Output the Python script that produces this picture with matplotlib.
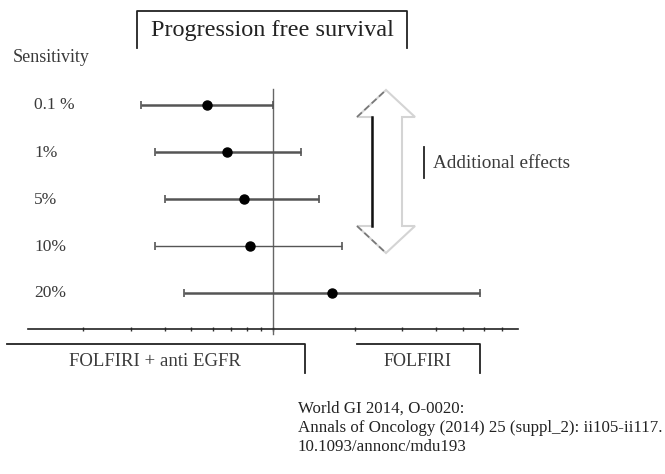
import matplotlib
matplotlib.use('Agg')
import matplotlib.pyplot as plt
from matplotlib.patches import Polygon
from matplotlib.ticker import FixedLocator, NullFormatter

plt.rcParams['font.family'] = ['Liberation Serif', 'DejaVu Serif']

# hazard ratios (log scale)
labels = ['0.1 %', '1%', '5%', '10%', '20%']
hr = [0.57, 0.675, 0.78, 0.82, 1.65]
ci_low = [0.326, 0.367, 0.399, 0.367, 0.469]
ci_high = [1.0, 1.27, 1.48, 1.80, 5.79]
minor_ticks = [0.2, 0.3, 0.4, 0.5, 0.6, 0.7, 0.8, 0.9, 2, 3, 4, 5, 6, 7]
footer = ['World GI 2014, O-0020:',
          'Annals of Oncology (2014) 25 (suppl_2): ii105-ii117.',
          '10.1093/annonc/mdu193']

W, H = 665, 474
fig = plt.figure(figsize=(W / 100, H / 100), dpi=100)

# forest plot axes
ax = fig.add_axes([28 / W, (H - 329) / H, 490 / W, 240 / H])
ax.set_facecolor('none')
ax.set_xscale('log')
ax.set_xlim(0.125, 8)
ax.set_ylim(0.234, 5.34)
ypos = [len(labels) - i for i in range(len(labels))]
for i in range(len(labels)):
    lw = 1.0 if i == 3 else 1.8
    ax.errorbar(hr[i], ypos[i],
                xerr=[[hr[i] - ci_low[i]], [ci_high[i] - hr[i]]],
                fmt='o', color='#555555', ecolor='#555555', elinewidth=lw,
                capsize=3, capthick=1.2, markersize=6.5,
                markerfacecolor='black', markeredgecolor='black', zorder=3)
ax.plot([1, 1], [0.13, 5.34], color='#666666', lw=1, clip_on=False, zorder=2)
for s in ['top', 'right', 'left']:
    ax.spines[s].set_visible(False)
ax.spines['bottom'].set_linewidth(1.2)
ax.spines['bottom'].set_color('#222222')
ax.set_yticks([])
ax.xaxis.set_major_locator(FixedLocator([1]))
ax.xaxis.set_minor_locator(FixedLocator(minor_ticks))
ax.xaxis.set_major_formatter(NullFormatter())
ax.xaxis.set_minor_formatter(NullFormatter())
ax.tick_params(axis='x', which='both', direction='inout', length=3,
               width=1, colors='#333333')

# overlay in pixel coordinates for the annotations
ov = fig.add_axes([0, 0, 1, 1], zorder=-1)
ov.set_xlim(0, W)
ov.set_ylim(H, 0)
ov.axis('off')

txt = '#3a3a3a'
ov.text(13, 57, 'Sensitivity', fontsize=13, color=txt, va='center')
row_px = [105, 153, 200, 247, 293]
for lab, yp in zip(labels, row_px):
    ov.text(34, yp, lab, fontsize=12.5, color=txt, va='center')

# title box (open at the bottom)
ov.plot([137, 137, 407, 407], [48, 11, 11, 48], color='#222222', lw=1.3)
ov.text(272, 30, 'Progression free survival', fontsize=17.5, color='#222222',
        ha='center', va='center')

# hollow double arrow
arrow = Polygon([(386, 90), (415, 117), (402, 117), (402, 226), (415, 226),
                 (386, 253), (357, 226), (372, 226), (372, 117), (357, 117)],
                closed=True, fill=False, edgecolor='#d4d4d4', lw=1.5)
ov.add_patch(arrow)
ov.plot([372, 372], [117, 226], color='#111111', lw=1.8)
ov.plot([357, 386], [117, 90], color='#777777', lw=1.2, ls=(0, (4, 2)))
ov.plot([357, 386], [226, 253], color='#777777', lw=1.2, ls=(0, (4, 2)))

ov.plot([424, 424], [147, 178], color='#222222', lw=1.3)
ov.text(433, 163, 'Additional effects', fontsize=13.8, color=txt, va='center')

# bottom group boxes
ov.plot([7, 305, 305], [344, 344, 373], color='#222222', lw=1.3)
ov.text(155, 361, 'FOLFIRI + anti EGFR', fontsize=13.5, color=txt,
        ha='center', va='center')
ov.plot([357, 480, 480], [344, 344, 373], color='#222222', lw=1.3)
ov.text(418, 361, 'FOLFIRI', fontsize=13, color=txt, ha='center', va='center')

for k, line in enumerate(footer):
    ov.text(298, 409 + 19 * k, line, fontsize=12.2, color='#222222', va='center')

fig.savefig('out.png', dpi=100, facecolor='white')
